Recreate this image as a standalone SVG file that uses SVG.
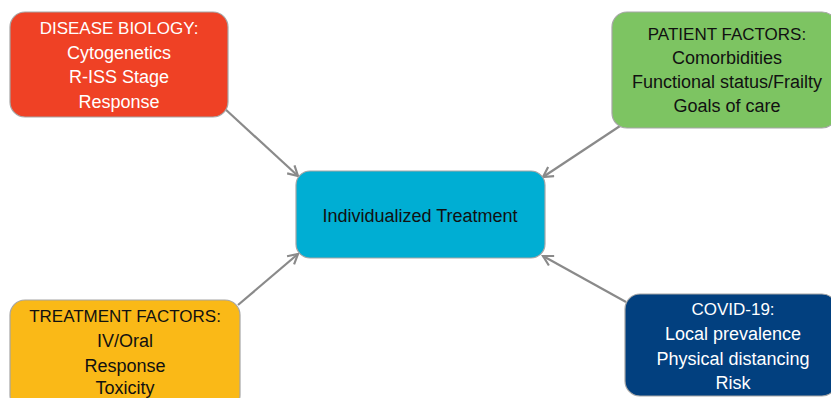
<svg xmlns="http://www.w3.org/2000/svg" width="831" height="398" viewBox="0 0 831 398">
<defs>
<style>
.box{stroke:#a6a6a6;stroke-width:1.2}
.t{font-family:"Liberation Sans",Arial,sans-serif;font-size:18px;text-anchor:middle}
.h{font-size:17px}
.w{fill:#ffffff}
.k{fill:#111111}
.c{stroke:#8a8a8a;stroke-width:2.2;fill:none;marker-end:url(#ah)}
</style>
<marker id="ah" viewBox="0 0 12 12" refX="10.5" refY="6" markerWidth="13" markerHeight="13" orient="auto" markerUnits="userSpaceOnUse">
<path d="M1.5,1 L10.5,6 L1.5,11" fill="none" stroke="#8a8a8a" stroke-width="2"/>
</marker>
</defs>
<rect width="831" height="398" fill="#ffffff"/>
<g id="connectors">
<line class="c" x1="224" y1="108" x2="298" y2="176"/>
<line class="c" x1="620" y1="126" x2="543" y2="177"/>
<line class="c" x1="238" y1="305" x2="298" y2="254"/>
<line class="c" x1="626" y1="302" x2="543" y2="256"/>
</g>
<g id="disease-biology">
<rect class="box" x="10" y="12" width="218" height="105" rx="15" fill="#EF4125"/>
<text class="t h w" x="119" y="34">DISEASE BIOLOGY:</text>
<text class="t w" x="119" y="58.5">Cytogenetics</text>
<text class="t w" x="119" y="83">R-ISS Stage</text>
<text class="t w" x="119" y="107.5">Response</text>
</g>
<g id="patient-factors">
<rect class="box" x="612" y="12" width="225" height="116" rx="15" fill="#7DC462"/>
<text class="t h k" x="727" y="40">PATIENT FACTORS:</text>
<text class="t k" x="727" y="64">Comorbidities</text>
<text class="t k" x="727" y="88">Functional status/Frailty</text>
<text class="t k" x="727" y="112">Goals of care</text>
</g>
<g id="individualized-treatment">
<rect class="box" x="296" y="171" width="249" height="87" rx="14" fill="#00AED3"/>
<text class="t k" x="420" y="222">Individualized Treatment</text>
</g>
<g id="treatment-factors">
<rect class="box" x="10" y="300" width="230" height="110" rx="15" fill="#FAB917"/>
<text class="t h k" x="125" y="322">TREATMENT FACTORS:</text>
<text class="t k" x="125" y="347">IV/Oral</text>
<text class="t k" x="125" y="371.5">Response</text>
<text class="t k" x="125" y="394">Toxicity</text>
</g>
<g id="covid-19">
<rect class="box" x="625" y="294" width="212" height="102" rx="15" fill="#02407F"/>
<text class="t h w" x="733" y="315">COVID-19:</text>
<text class="t w" x="733" y="340">Local prevalence</text>
<text class="t w" x="733" y="365">Physical distancing</text>
<text class="t w" x="733" y="389">Risk</text>
</g>
</svg>
